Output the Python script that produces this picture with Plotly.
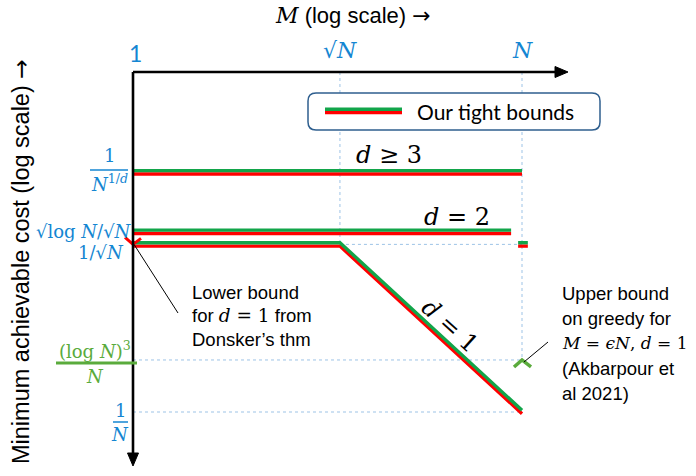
import plotly.graph_objects as go

# figure size in pixels
W, H = 696, 476

# sketch values: x = log_N(M), y = log_N(minimum cost), as placed in the drawing
M_TICK_LABELS = ["1", "√<i>N</i>", "<i>N</i>"]
M_TICK_POS = [0.0, 0.532, 1.0]

COST_POS_D3 = -0.295      # 1/N^(1/d)
COST_POS_D2 = -0.470      # sqrt(log N)/sqrt(N)
COST_POS_SQRT = -0.507    # 1/sqrt(N)
COST_POS_LOG3 = -0.847    # (log N)^3/N
COST_POS_N = -1.0         # 1/N

D3_X = [0.0, 1.0]
D3_Y = [-0.295, -0.295]
D2_X = [0.0, 0.972]
D2_Y = [-0.470, -0.470]
D2_END_X = [0.99, 1.015]
D2_END_Y = [-0.507, -0.507]
D1_X = [0.0, 0.532, 1.0]
D1_Y = [-0.507, -0.507, -1.0]

DONSKER_PT = (0.0, -0.507)
GREEDY_PT = (1.0, -0.847)

# colours / fonts
BLUE = "#1486d2"
GREEN = "#12a54a"
RED = "#ff0000"
LIGHT_GREEN = "#5aab3c"
GRID = "#9dc3e6"
SANS = "Liberation Sans"
SERIF = "DejaVu Serif"

# pixel <-> data helpers (x=0 at 133px, x=1 at 522px; y=0 at 72px, y=-1 at 412px)
PX_X0, PX_X1 = 133, 522
PX_Y0, PX_Y1 = 72, 412
SX = PX_X1 - PX_X0
SY = PX_Y1 - PX_Y0


def dx(px):
    return (px - PX_X0) / SX


def dy(py):
    return -(py - PX_Y0) / SY


fig = go.Figure()


def add_bound(xs, ys):
    # red underneath, green on top (offset by a few pixels)
    fig.add_trace(go.Scatter(x=xs, y=[v - 1.7 / SY for v in ys], mode="lines",
                             line={"color": RED, "width": 3.4}, hoverinfo="skip"))
    fig.add_trace(go.Scatter(x=xs, y=[v + 1.7 / SY for v in ys], mode="lines",
                             line={"color": GREEN, "width": 3.4}, hoverinfo="skip"))


# dotted guide lines
guides = [
    (M_TICK_POS[1], 0.0, M_TICK_POS[1], COST_POS_SQRT),
    (M_TICK_POS[2], 0.0, M_TICK_POS[2], COST_POS_LOG3),
    (M_TICK_POS[1], COST_POS_SQRT, M_TICK_POS[2], COST_POS_SQRT),
    (M_TICK_POS[0], COST_POS_LOG3, M_TICK_POS[2], COST_POS_LOG3),
    (M_TICK_POS[0], COST_POS_N, M_TICK_POS[2], COST_POS_N),
]
for x0, y0, x1, y1 in guides:
    fig.add_shape(type="line", x0=x0, y0=y0, x1=x1, y1=y1,
                  line={"color": GRID, "width": 1, "dash": "dot"}, layer="below")

add_bound(D3_X, D3_Y)
add_bound(D2_X, D2_Y)
add_bound(D2_END_X, D2_END_Y)
add_bound(D1_X, D1_Y)

# pointer lines to the markers
fig.add_shape(type="line", x0=dx(178), y0=dy(313), x1=DONSKER_PT[0] + 1 / SX, y1=DONSKER_PT[1],
              line={"color": "black", "width": 1})
fig.add_shape(type="line", x0=dx(548), y0=dy(342), x1=GREEDY_PT[0] + 2 / SX, y1=GREEDY_PT[1] - 2 / SY,
              line={"color": "black", "width": 1})

# red chevron at the Donsker lower bound
px0, py0 = DONSKER_PT
fig.add_trace(go.Scatter(
    x=[px0 - 8 / SX, px0, px0 + 8 / SX],
    y=[py0 + 7 / SY, py0, py0 + 6 / SY],
    mode="lines", line={"color": RED, "width": 3}, hoverinfo="skip"))

# green caret for greedy upper bound
gx, gy = GREEDY_PT
fig.add_trace(go.Scatter(
    x=[gx - 8 / SX, gx, gx + 9 / SX],
    y=[gy - 7 / SY, gy, gy - 7 / SY],
    mode="lines", line={"color": LIGHT_GREEN, "width": 3.5}, hoverinfo="skip"))

# axes with arrow heads
fig.add_shape(type="line", x0=0, y0=0, x1=dx(558), y1=0, line={"color": "black", "width": 2.6})
fig.add_shape(type="line", x0=0, y0=0, x1=0, y1=dy(456), line={"color": "black", "width": 2.6})
fig.add_shape(type="path", fillcolor="black", line={"color": "black", "width": 1},
              path=f"M {dx(568)},{dy(72)} L {dx(555)},{dy(66.5)} L {dx(555)},{dy(77.5)} Z")
fig.add_shape(type="path", fillcolor="black", line={"color": "black", "width": 1},
              path=f"M {dx(133)},{dy(466)} L {dx(127.5)},{dy(453)} L {dx(138.5)},{dy(453)} Z")


def label(px, py, text, size=18, color="black", family=SANS, xanchor="center", angle=0):
    fig.add_annotation(x=dx(px), y=dy(py), xref="x", yref="y", text=text, showarrow=False,
                       xanchor=xanchor, yanchor="middle", textangle=angle,
                       font={"family": family, "size": size, "color": color})


def frac_bar(x0, x1, py, color, width=1.5):
    fig.add_shape(type="line", x0=dx(x0), x1=dx(x1), y0=dy(py), y1=dy(py),
                  line={"color": color, "width": width})


ARROW = "<span style='font-family:DejaVu Sans'>→</span>"

# axis titles
label(353, 15, f"<span style='font-family:{SERIF}'><i>M</i></span> (log scale) {ARROW}", size=22)
label(21, 262, f"Minimum achievable cost (log scale) {ARROW}", size=23.5, angle=-90)

# top tick labels
label(135, 53, M_TICK_LABELS[0], size=23, color=BLUE, family="Lato")
for lab, pos in zip(M_TICK_LABELS[1:], M_TICK_POS[1:]):
    fig.add_annotation(x=pos, y=dy(50), xref="x", yref="y", text=lab, showarrow=False,
                       font={"family": SERIF, "size": 22, "color": BLUE})

# cost tick labels
label(109, 155, "1", size=18, color=BLUE, family=SERIF)
frac_bar(90, 128, 170, BLUE)
label(109, 183, "<i>N</i><sup>1/<i>d</i></sup>", size=18, color=BLUE, family=SERIF)
label(134, 231, "√log <i>N</i>/√<i>N</i>", size=18, color=BLUE, family=SERIF, xanchor="right")
label(126, 252, "1/√<i>N</i>", size=18, color=BLUE, family=SERIF, xanchor="right")
label(95, 350, "(log <i>N</i>)<sup>3</sup>", size=18, color=LIGHT_GREEN, family=SERIF)
frac_bar(56, 137, 363, LIGHT_GREEN, width=3)
label(95, 376, "<i>N</i>", size=18, color=LIGHT_GREEN, family=SERIF)
label(120, 410, "1", size=18, color=BLUE, family=SERIF)
frac_bar(113, 128, 422, BLUE)
label(120, 434, "<i>N</i>", size=18, color=BLUE, family=SERIF)

# curve labels
label(389, 155, "<i>d</i> ≥ 3", size=24, family=SERIF)
label(457, 217, "<i>d</i> = 2", size=24, family=SERIF)
label(450, 326, "<i>d</i> = 1", size=24, family=SERIF, angle=42)

# annotation texts
math = f"<span style='font-family:{SERIF}'>"
lower_lines = ["Lower bound", f"for {math}<i>d</i> = 1</span> from", "Donsker’s thm"]
for i, line in enumerate(lower_lines):
    label(190, 292 + i * 23.5, line, size=18.5, xanchor="left")
upper_lines = ["Upper bound", "on greedy for", "<i>M</i> = <i>ϵN</i>, <i>d</i> = 1",
               "(Akbarpour et", "al 2021)"]
for i, line in enumerate(upper_lines):
    if i == 2:
        label(560, 293 + i * 25, line, size=17, family=SERIF, xanchor="left")
    else:
        label(560, 293 + i * 25, line, size=18.5, xanchor="left")

# legend box
bx0, bx1, by0, by1, r = 308, 600, 93, 130, 8
path = (f"M {dx(bx0 + r)},{dy(by0)} L {dx(bx1 - r)},{dy(by0)} Q {dx(bx1)},{dy(by0)} {dx(bx1)},{dy(by0 + r)} "
        f"L {dx(bx1)},{dy(by1 - r)} Q {dx(bx1)},{dy(by1)} {dx(bx1 - r)},{dy(by1)} "
        f"L {dx(bx0 + r)},{dy(by1)} Q {dx(bx0)},{dy(by1)} {dx(bx0)},{dy(by1 - r)} "
        f"L {dx(bx0)},{dy(by0 + r)} Q {dx(bx0)},{dy(by0)} {dx(bx0 + r)},{dy(by0)} Z")
fig.add_shape(type="path", path=path, line={"color": "#2f5f8f", "width": 1.5}, fillcolor="white")
fig.add_shape(type="line", x0=dx(325), x1=dx(402), y0=dy(112.5), y1=dy(112.5),
              line={"color": RED, "width": 3.4})
fig.add_shape(type="line", x0=dx(325), x1=dx(402), y0=dy(109.3), y1=dy(109.3),
              line={"color": GREEN, "width": 3.4})
label(415, 111, "Our tight bounds", size=21, family="Lato", xanchor="left")

fig.update_layout(
    width=W,
    height=H,
    margin={"l": 0, "r": 0, "t": 0, "b": 0},
    paper_bgcolor="white",
    plot_bgcolor="white",
    showlegend=False,
    xaxis={"visible": False, "range": [dx(0), dx(W)], "fixedrange": True},
    yaxis={"visible": False, "range": [dy(H), dy(0)], "fixedrange": True},
)

# page body has a default 8px margin; drop it so the figure fills the window
fig.write_html("out.html", config={"displayModeBar": False},
               post_script="document.body.style.margin='0';")
